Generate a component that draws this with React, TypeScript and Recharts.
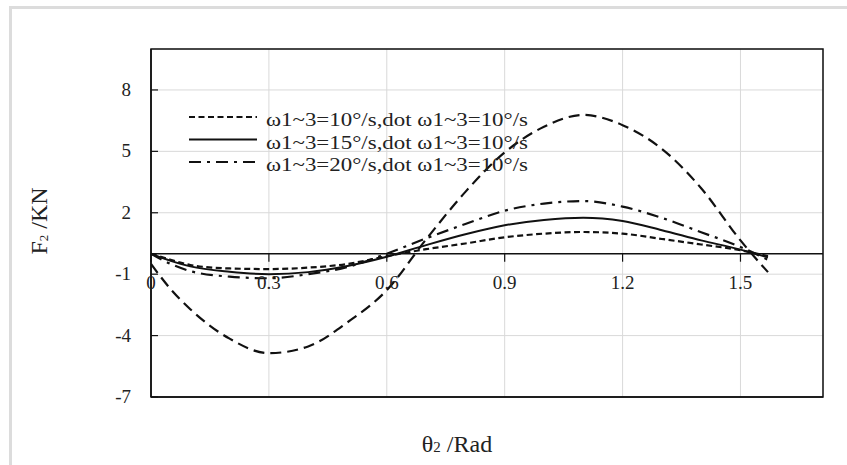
import React from "react";
import {
  LineChart, Line, XAxis, YAxis, CartesianGrid, ReferenceLine, ReferenceArea, Legend,
} from "recharts";

// θ2 sample positions (rad)
const theta = [0, 0.05, 0.1, 0.2, 0.3, 0.4, 0.5, 0.6, 0.7, 0.8, 0.9, 1.0, 1.1, 1.2, 1.3, 1.4, 1.5, 1.57];

// F2 (KN)
const f10 = [0, -0.3, -0.55, -0.72, -0.75, -0.68, -0.5, -0.12, 0.22, 0.5, 0.8, 0.98, 1.06, 0.98, 0.72, 0.45, 0.17, -0.12];
const f15 = [0, -0.35, -0.62, -0.88, -1.0, -0.9, -0.6, -0.15, 0.42, 0.95, 1.39, 1.65, 1.76, 1.6, 1.15, 0.65, 0.2, -0.18];
const f20 = [0, -0.5, -0.85, -1.12, -1.2, -1.0, -0.65, 0, 0.75, 1.45, 2.1, 2.45, 2.57, 2.3, 1.75, 1.05, 0.33, -0.3];
const fBig = [-0.5, -1.73, -2.71, -4.15, -4.86, -4.53, -3.35, -1.78, 0.7, 3.02, 4.95, 6.2, 6.78, 6.28, 5.12, 3.2, 0.65, -0.9];

const xTicks = [0, 0.3, 0.6, 0.9, 1.2, 1.5];
const yTicks = [-7, -4, -1, 2, 5, 8];

const legendLabels = [
  "ω1~3=10°/s,dot ω1~3=10°/s",
  "ω1~3=15°/s,dot ω1~3=10°/s",
  "ω1~3=20°/s,dot ω1~3=10°/s",
];
const legendDashes = ["6 3.5", undefined, "12 6 3 6"];

const data = theta.map((t, i) => ({ t, a: f10[i], b: f15[i], c: f20[i], d: fBig[i] }));

const W = 847;
const H = 465;
const TOP = 49;
const RIGHT = 24;
const Y_AXIS_W = 151;
const X_AXIS_H = 68;
const Y_MIN = -7;
const Y_MAX = 10;
const X_MAX = 1.71;
const PLOT_H = H - TOP - X_AXIS_H;
const zeroY = TOP + ((Y_MAX - 0) / (Y_MAX - Y_MIN)) * PLOT_H;

const SERIF = '"Liberation Serif", "Times New Roman", serif';
const INK = "#111";

function XTick(props: any) {
  const { x, payload } = props;
  return (
    <g>
      <line x1={x} x2={x} y1={zeroY} y2={zeroY + 8} stroke={INK} strokeWidth={1.2} />
      <text x={x} y={zeroY + 35} textAnchor="middle" fontFamily={SERIF} fontSize={19} fill="#222">
        {payload.value}
      </text>
    </g>
  );
}

function YTick(props: any) {
  const { x, y, payload } = props;
  return (
    <g>
      <line x1={x} x2={x + 7} y1={y} y2={y} stroke={INK} strokeWidth={1.2} />
      <text x={x - 20} y={y + 6} textAnchor="end" fontFamily={SERIF} fontSize={19} fill="#222">
        {payload.value}
      </text>
    </g>
  );
}

function renderLegend() {
  return (
    <svg width={345} height={70} style={{ display: "block" }}>
      {legendLabels.map((label, i) => (
        <g key={label}>
          <line
            x1={0} x2={68} y1={12 + 22.5 * i} y2={12 + 22.5 * i}
            stroke={INK} strokeWidth={2} strokeDasharray={legendDashes[i]}
          />
          <text
            x={77} y={21 + 22.5 * i} fontFamily={SERIF} fontSize={19} fill="#222"
            textLength={262} lengthAdjust="spacingAndGlyphs"
          >
            {label}
          </text>
        </g>
      ))}
    </svg>
  );
}

export default function App() {
  return (
    <div
      style={{
        position: "absolute", left: 0, top: 0, width: W, height: H,
        overflow: "hidden", background: "#fff",
      }}
    >
      <div
        style={{
          position: "absolute", left: 9, top: 6, width: W, height: H,
          borderLeft: "3px solid #dcdcdc", borderTop: "3px solid #dcdcdc",
        }}
      />
      <div style={{ position: "absolute", left: 0, top: 0 }}>
        <LineChart width={W} height={H} data={data} margin={{ top: TOP, right: RIGHT, bottom: 0, left: 0 }}>
          <CartesianGrid stroke="#d9d9d9" strokeWidth={1} />
          <XAxis
            type="number" dataKey="t" domain={[0, X_MAX]} ticks={xTicks} interval={0}
            allowDataOverflow height={X_AXIS_H} tickSize={0} tickMargin={0} tickLine={false}
            axisLine={{ stroke: INK, strokeWidth: 1.5 }} tick={<XTick />}
            label={(p: any) => {
              const vb = p.viewBox;
              const cx = vb.x + vb.width / 2 - 30;
              return (
                <text x={cx} y={vb.y + 55} textAnchor="middle" fontFamily={SERIF} fontSize={24} fill="#222">
                  θ<tspan fontSize={15}>2</tspan> /Rad
                </text>
              );
            }}
          />
          <YAxis
            type="number" domain={[Y_MIN, Y_MAX]} ticks={yTicks} interval={0}
            allowDataOverflow width={Y_AXIS_W} tickSize={0} tickMargin={0} tickLine={false}
            axisLine={{ stroke: INK, strokeWidth: 1.5 }} tick={<YTick />}
            label={(p: any) => {
              const vb = p.viewBox;
              const bx = vb.x + 47;
              const by = vb.y + 172;
              return (
                <text
                  x={bx} y={by} transform={`rotate(-90 ${bx} ${by})`} textAnchor="middle"
                  fontFamily={SERIF} fontSize={24} fill="#222"
                >
                  F<tspan fontSize={13} dy={1}>2</tspan><tspan dy={-1}> /KN</tspan>
                </text>
              );
            }}
          />
          <ReferenceArea x1={0} x2={X_MAX} y1={Y_MIN} y2={Y_MAX} fill="none" stroke={INK} strokeWidth={1.5} strokeOpacity={1} />
          <ReferenceLine y={0} stroke={INK} strokeWidth={1.5} />
          <Line type="monotone" dataKey="d" stroke={INK} strokeWidth={2.2} strokeDasharray="11 6" dot={false} isAnimationActive={false} />
          <Line type="monotone" dataKey="a" stroke={INK} strokeWidth={2.2} strokeDasharray="6 3.5" dot={false} isAnimationActive={false} />
          <Line type="monotone" dataKey="b" stroke={INK} strokeWidth={2} dot={false} isAnimationActive={false} />
          <Line type="monotone" dataKey="c" stroke={INK} strokeWidth={2.2} strokeDasharray="12 6 3 6" dot={false} isAnimationActive={false} />
          <Legend
            layout="vertical" align="center" verticalAlign="middle"
            content={renderLegend}
            wrapperStyle={{ left: 189, top: 105, width: 345, height: 70 }}
          />
        </LineChart>
      </div>
    </div>
  );
}
